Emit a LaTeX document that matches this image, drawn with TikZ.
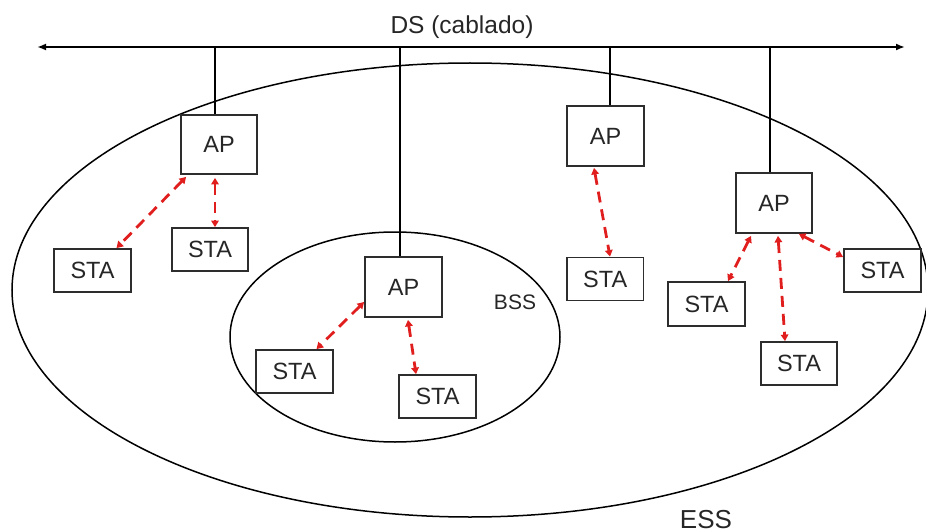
\documentclass[tikz,border=0pt]{standalone}
\usepackage{fontspec}
\setmainfont{Liberation Sans}
\usetikzlibrary{arrows.meta}
\definecolor{wred}{RGB}{225,30,30}
\definecolor{boxline}{RGB}{45,45,45}
\tikzset{
  dev/.style={draw=boxline, line width=1.8pt, rectangle, inner sep=0pt,
    font=\fontsize{23.5}{24}\selectfont, text=black!85},
  apbox/.style={dev, minimum width=76pt, minimum height=59pt},
  stabox/.style={dev, minimum width=77pt, minimum height=43pt},
  wlink/.style={draw=wred, line width=2.8pt, dash pattern=on 11pt off 7pt,
    {Triangle[length=6.5pt,width=7.5pt]}-{Triangle[length=6.5pt,width=7.5pt]}},
  wire/.style={draw=black, line width=2.4pt},
  area/.style={draw=black, line width=1.5pt},
  lbl/.style={inner sep=0pt, text=black!85}
}
\begin{document}
\begin{tikzpicture}[x=1pt,y=-1pt]
\useasboundingbox (0,0) rectangle (926,532);
% areas
\draw[area] (470,290) ellipse [x radius=458, y radius=227];
\draw[area] (395,337) ellipse [x radius=165, y radius=105];
% bus
\coordinate (busL) at (37,47);
\coordinate (busR) at (905,47);
\draw[wire, {Latex[length=9pt,width=7pt]}-{Latex[length=9pt,width=7pt]}] (busL) -- (busR);
\node[lbl, font=\fontsize{24.5}{25}\selectfont, anchor=base] (ds) at (462,34) {DS (cablado)};
% access points
\node[apbox] (ap1) at (219,144.5) {AP};
\node[apbox, minimum width=77pt, minimum height=60pt] (ap2) at (403.5,287) {AP};
\node[apbox, minimum width=77pt, minimum height=60pt] (ap3) at (605.5,136) {AP};
\node[apbox, minimum height=60pt] (ap4) at (774,203) {AP};
% stations
\node[stabox] (sta1) at (92.5,270.5) {STA};
\node[stabox, minimum width=76pt] (sta2) at (210,249.5) {STA};
\node[stabox] (sta5) at (294.5,371.5) {STA};
\node[stabox] (sta6) at (437.5,396.5) {STA};
\node[stabox, minimum width=76.5pt] (sta3) at (605.2,279) {STA};
\node[stabox, minimum height=44pt] (sta4a) at (706.5,304) {STA};
\node[stabox, minimum width=76pt] (sta4b) at (799,363.5) {STA};
\node[stabox] (sta4c) at (882.5,270.5) {STA};
% labels
\node[lbl, font=\fontsize{21}{21}\selectfont] (bss) at (515,302) {BSS};
\node[lbl, font=\fontsize{26}{26}\selectfont, anchor=base] (ess) at (706,528) {ESS};
% drops from bus
\coordinate (d1) at (215,47);
\coordinate (d2) at (400,47);
\coordinate (d3) at (610,47);
\coordinate (d4) at (770,47);
\draw[wire] (d1) -- (d1 |- ap1.north);
\draw[wire] (d2) -- (d2 |- ap2.north);
\draw[wire] (d3) -- (d3 |- ap3.north);
\draw[wire] (d4) -- (d4 |- ap4.north);
% wireless links
\draw[wlink] ([xshift=6pt,yshift=-2pt]ap1.south west) -- ([xshift=24pt]sta1.north);
\draw[wlink] ([xshift=-4pt,yshift=-3pt]ap1.south) -- ([xshift=5pt]sta2.north);
\draw[wlink] ([yshift=-15pt]ap2.west) -- ([xshift=22pt]sta5.north);
\draw[wlink] ([xshift=4.5pt,yshift=-2pt]ap2.south) -- ([xshift=-21.5pt]sta6.north);
\draw[wlink] ([xshift=-11.5pt,yshift=-1pt]ap3.south) -- ([xshift=4.8pt]sta3.north);
\draw[wlink] ([xshift=-23pt,yshift=-2pt]ap4.south) -- ([xshift=21.5pt]sta4a.north);
\draw[wlink] ([xshift=4pt,yshift=-2pt]ap4.south) -- ([xshift=-14pt]sta4b.north);
\draw[wlink] ([xshift=-14pt]ap4.south east) -- ([yshift=13.5pt]sta4c.west);
\end{tikzpicture}
\end{document}
